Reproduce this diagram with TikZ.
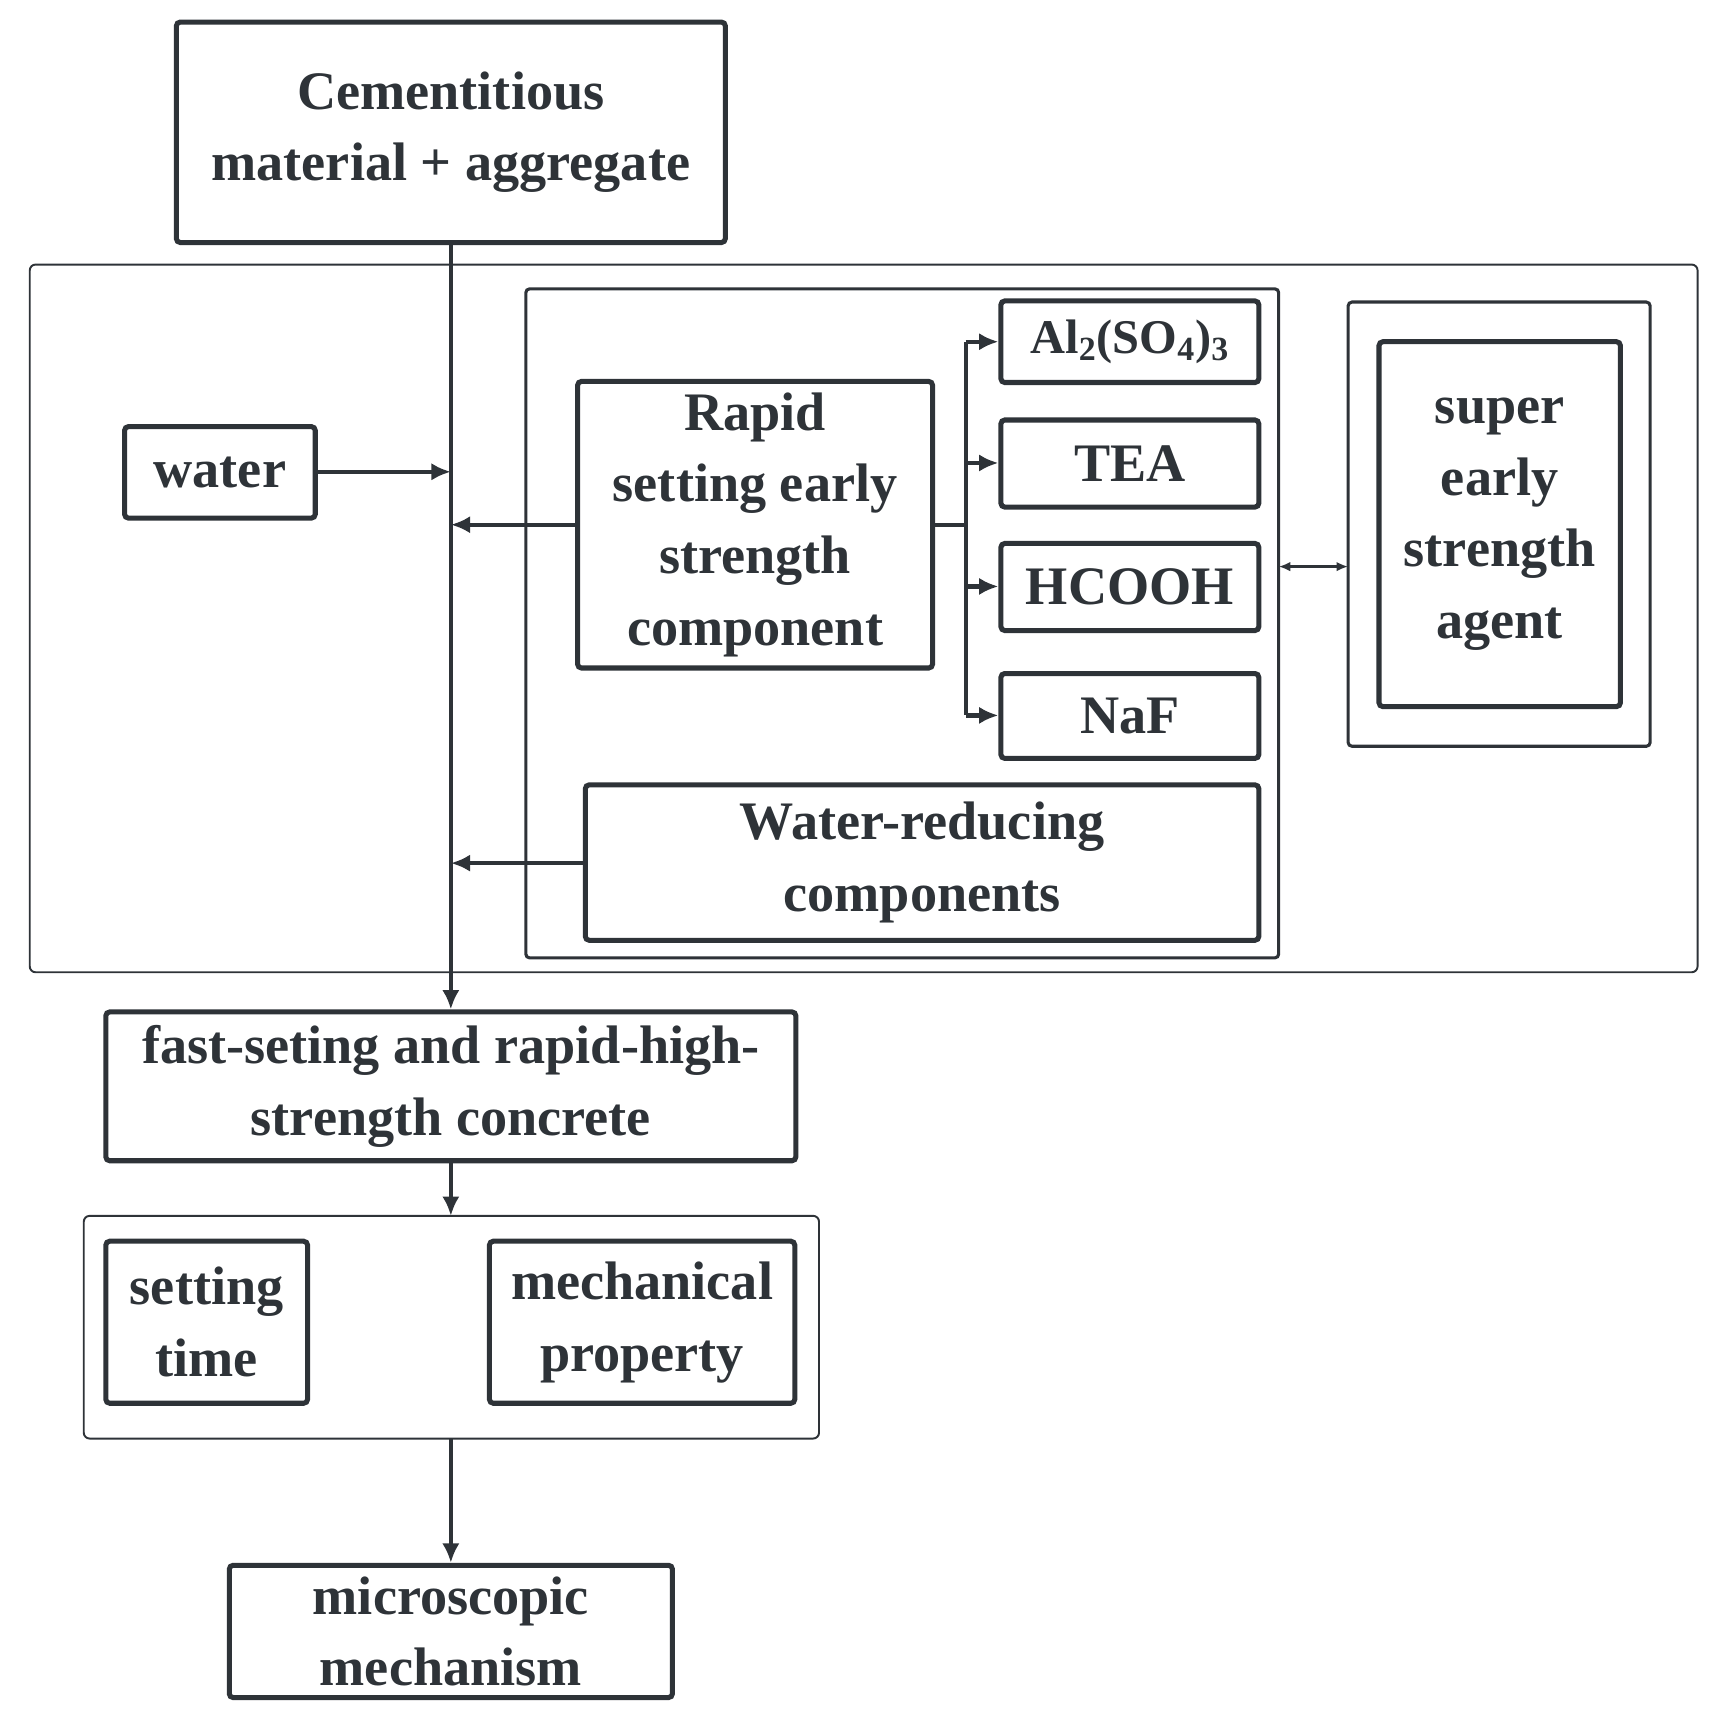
\documentclass[tikz,border=0pt]{standalone}
\usepackage{fontspec}
\setmainfont{Liberation Serif}
\usetikzlibrary{arrows.meta}
\definecolor{ink}{HTML}{2E3338}
\begin{document}
\begin{tikzpicture}[x=0.02cm,y=-0.02cm,
  bx/.style={draw=ink,line width=2.6pt,rounded corners=2pt,align=center,inner sep=0pt,
    font=\fontsize{28}{37}\selectfont\bfseries,text=ink},
  cont/.style={draw=ink,line width=1pt,rounded corners=3pt},
  cont2/.style={draw=ink,line width=1.6pt,rounded corners=2pt},
  ar/.style={draw=ink,line width=2.2pt,-{Latex[length=10pt,width=9pt]}},
  ln/.style={draw=ink,line width=2.2pt}]
\useasboundingbox (0,0) rectangle (1564,1560);
\newcommand{\bx}[6]{\node[bx,minimum width={(#4-#2)*0.02cm},minimum height={(#5-#3)*0.02cm}] (#1) at ({(#2+#4)/2},{(#3+#5)/2}) {#6};}
% containers
\draw[cont] (27,240) rectangle (1540,882);
\draw[cont2] (477,262) rectangle (1160,869);
\draw[cont2] (1223,274) rectangle (1497,677);
\draw[cont] (76,1103) rectangle (743,1305);
% boxes
\bx{top}{160}{20}{658}{220}{Cementitious\\material + aggregate}
\bx{water}{113}{387}{286}{470}{water}
\bx{rapid}{524}{346}{846}{606}{Rapid\\setting early\\strength\\component}
\bx{al}{908}{273}{1142}{347}{\fontsize{25}{30}\selectfont Al\textsubscript{2}(SO\textsubscript{4})\textsubscript{3}}
\bx{tea}{908}{381}{1142}{460}{TEA}
\bx{hc}{908}{493}{1142}{572}{HCOOH}
\bx{naf}{908}{611}{1142}{688}{NaF}
\bx{super}{1251}{310}{1470}{641}{super\\early\\strength\\agent}
\bx{wr}{531}{712}{1142}{853}{Water-reducing\\components}
\bx{fast}{96}{918}{722}{1053}{fast-seting and rapid-high-\\strength concrete}
\bx{set}{96}{1126}{279}{1273}{setting\\time}
\bx{mech}{444}{1126}{721}{1273}{mechanical\\property}
\bx{micro}{208}{1420}{610}{1540}{microscopic\\mechanism}
\coordinate (c2top) at (409,1103);
\coordinate (c2bot) at (409,1305);
% main spine
\draw[ar] (top.south -| 409,0) -- (fast.north -| 409,0);
\draw[ar] (fast.south -| 409,0) -- (c2top);
\draw[ar] (c2bot) -- (micro.north -| 409,0);
\coordinate (jw) at (409,428);
\coordinate (jr) at (409,476);
\coordinate (jwr) at (409,783);
\draw[ar] (water.east |- jw) -- (jw);
\draw[ar] (rapid.west |- jr) -- (jr);
\draw[ar] (wr.west |- jwr) -- (jwr);
% branches
\coordinate (br) at (876,476);
\draw[ln] (rapid.east |- br) -- (br);
\draw[ln] (876,310) -- (876,649);
\draw[ar] (876,310) -- (al.west |- 0,310);
\draw[ar] (876,420) -- (tea.west |- 0,420);
\draw[ar] (876,532) -- (hc.west |- 0,532);
\draw[ar] (876,649) -- (naf.west |- 0,649);
\coordinate (dl) at (1160,514);
\coordinate (dr) at (1223,514);
\draw[draw=ink,line width=1.4pt,{Latex[length=6pt,width=5pt]}-{Latex[length=6pt,width=5pt]}] (dl) -- (dr);
\end{tikzpicture}
\end{document}
